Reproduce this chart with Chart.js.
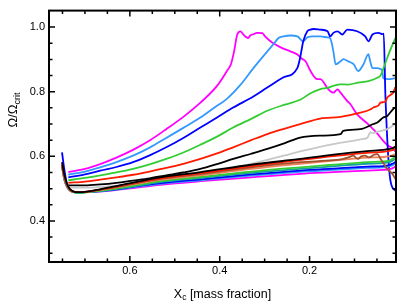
<!DOCTYPE html>
<html>
<head>
<meta charset="utf-8">
<script src="https://cdn.jsdelivr.net/npm/chart.js@4.4.1/dist/chart.umd.min.js"></script>
<style>
  html, body { margin: 0; padding: 0; background: #fff; }
  #wrap { width: 407px; height: 306px; position: relative; }
</style>
</head>
<body>
<div id="wrap"><canvas id="chart"></canvas></div>
<script>
// axis ticks
const xTicks = [0.6, 0.4, 0.2];
const xMinor = [0.75, 0.7, 0.65, 0.55, 0.5, 0.45, 0.35, 0.3, 0.25, 0.15, 0.1, 0.05];
const yTicks = [0.4, 0.6, 0.8, 1.0];
const yMinor = [0.3, 0.35, 0.45, 0.5, 0.55, 0.65, 0.7, 0.75, 0.85, 0.9, 0.95];

// upper tracks
const magX1 = [0.737,0.700,0.666,0.630,0.593,0.556,0.519,0.481,0.443,0.406,0.384,0.375,0.368,0.361,0.354,0.348,0.343,0.337,0.332,0.325,0.317,0.305,0.299,0.287,0.276,0.261,0.243,0.227,0.216,0.209,0.198,0.183,0.176,0.158,0.147,0.138,0.131,0.127,0.116,0.109,0.094,0.071,0.049,0.036,0.025,0.014,0.009];
const magY1 = [0.551,0.561,0.576,0.596,0.620,0.649,0.684,0.722,0.766,0.818,0.864,0.885,0.925,0.977,0.987,0.978,0.971,0.966,0.974,0.978,0.982,0.981,0.971,0.956,0.946,0.935,0.925,0.915,0.901,0.894,0.864,0.839,0.839,0.807,0.797,0.807,0.797,0.790,0.771,0.761,0.730,0.701,0.670,0.648,0.633,0.624,0.615];

const lbX1 = [0.737,0.700,0.666,0.630,0.593,0.556,0.519,0.481,0.443,0.410,0.384,0.354,0.325,0.294,0.281,0.269,0.258,0.243,0.227,0.214,0.205,0.192,0.176,0.160,0.154,0.147,0.142,0.131,0.125,0.114,0.102,0.092,0.080,0.069,0.065,0.060,0.049,0.042,0.038,0.036,0.025,0.009];
const lbY1 = [0.543,0.553,0.566,0.582,0.602,0.627,0.657,0.688,0.720,0.753,0.778,0.821,0.873,0.925,0.946,0.966,0.971,0.974,0.971,0.956,0.968,0.971,0.971,0.968,0.965,0.925,0.885,0.894,0.901,0.894,0.885,0.864,0.885,0.916,0.894,0.873,0.873,0.870,0.864,0.842,0.839,0.842];

const bX1 = [0.737,0.700,0.666,0.630,0.593,0.556,0.519,0.481,0.443,0.406,0.370,0.325,0.295,0.260,0.227,0.221,0.214,0.205,0.198,0.192,0.176,0.160,0.154,0.147,0.138,0.127,0.116,0.094,0.076,0.069,0.060,0.047,0.036,0.035,0.031,0.020,0.009];
const bY1 = [0.535,0.544,0.556,0.567,0.582,0.603,0.628,0.657,0.689,0.720,0.751,0.785,0.812,0.843,0.874,0.905,0.956,0.987,0.992,0.994,0.992,0.987,0.971,0.982,0.987,0.977,0.992,0.987,0.971,0.956,0.977,0.982,0.978,0.980,0.780,0.525,0.494];

const gX1 = [0.737,0.700,0.666,0.630,0.593,0.556,0.519,0.481,0.443,0.406,0.370,0.330,0.294,0.255,0.221,0.198,0.176,0.160,0.147,0.131,0.114,0.092,0.069,0.049,0.042,0.031,0.020,0.009];
const gY1 = [0.526,0.533,0.541,0.550,0.561,0.575,0.592,0.612,0.636,0.661,0.689,0.716,0.741,0.760,0.775,0.795,0.808,0.812,0.818,0.823,0.822,0.828,0.833,0.843,0.850,0.890,0.930,0.966];

const rX1 = [0.737,0.700,0.666,0.630,0.593,0.556,0.519,0.481,0.443,0.406,0.370,0.330,0.294,0.255,0.221,0.176,0.131,0.087,0.065,0.058,0.047,0.042,0.031,0.027,0.020,0.014,0.009];
const rY1 = [0.518,0.522,0.528,0.535,0.543,0.553,0.564,0.577,0.592,0.609,0.628,0.650,0.669,0.686,0.700,0.717,0.722,0.735,0.745,0.751,0.757,0.766,0.770,0.782,0.790,0.797,0.814];

const kX1 = [0.737,0.700,0.666,0.630,0.593,0.556,0.519,0.481,0.443,0.406,0.370,0.330,0.294,0.255,0.221,0.176,0.131,0.125,0.087,0.058,0.049,0.036,0.027,0.014,0.009];
const kY1 = [0.510,0.510,0.513,0.518,0.525,0.532,0.541,0.550,0.561,0.576,0.592,0.608,0.623,0.641,0.658,0.664,0.669,0.679,0.684,0.700,0.705,0.720,0.725,0.746,0.751];

const grX = [0.737,0.700,0.666,0.630,0.593,0.556,0.519,0.481,0.443,0.406,0.370,0.330,0.294,0.255,0.221,0.147,0.080,0.071,0.065,0.058,0.049,0.027,0.009];
const grY = [0.504,0.503,0.505,0.509,0.515,0.520,0.527,0.536,0.546,0.555,0.565,0.577,0.589,0.603,0.615,0.638,0.654,0.658,0.674,0.672,0.676,0.684,0.700];

// lower bundle
const bundleX = [0.751,0.746,0.740,0.733,0.725,0.715,0.700,0.666,0.630,0.593,0.532,0.443,0.330,0.221,0.147,0.072,0.036,0.025,0.016,0.009];
const kY2 = [0.582,0.545,0.515,0.498,0.491,0.489,0.490,0.498,0.508,0.519,0.535,0.551,0.574,0.592,0.605,0.616,0.620,0.622,0.625,0.630];
const rY2 = [0.575,0.540,0.512,0.497,0.491,0.489,0.490,0.497,0.506,0.517,0.532,0.548,0.570,0.589,0.601,0.611,0.614,0.616,0.619,0.623];
const saY = [0.572,0.535,0.510,0.496,0.490,0.489,0.490,0.496,0.504,0.513,0.527,0.541,0.561,0.577,0.587,0.596,0.598,0.600,0.603,0.607];
const gY2 = [0.570,0.532,0.508,0.494,0.489,0.487,0.488,0.493,0.500,0.509,0.523,0.536,0.553,0.566,0.574,0.582,0.584,0.586,0.592,0.599];
const tlY = [0.570,0.530,0.507,0.494,0.489,0.488,0.489,0.493,0.499,0.507,0.520,0.533,0.549,0.561,0.569,0.577,0.579,0.581,0.586,0.592];
const bY2 = [0.612,0.560,0.515,0.497,0.490,0.488,0.489,0.493,0.498,0.506,0.517,0.529,0.544,0.556,0.562,0.568,0.570,0.572,0.577,0.582];
const lbY2 = [0.570,0.530,0.506,0.494,0.489,0.488,0.489,0.492,0.497,0.504,0.515,0.526,0.540,0.552,0.558,0.564,0.566,0.568,0.572,0.577];
const magY2 = [0.568,0.528,0.505,0.493,0.489,0.488,0.489,0.491,0.496,0.502,0.512,0.523,0.535,0.546,0.551,0.556,0.558,0.560,0.563,0.568];

const brX = [0.751,0.746,0.740,0.733,0.725,0.715,0.700,0.666,0.630,0.593,0.532,0.443,0.330,0.221,0.147,0.125,0.115,0.102,0.096,0.092,0.085,0.076,0.069,0.062,0.058,0.049,0.042,0.036,0.027,0.016,0.009];
const brY = [0.572,0.537,0.511,0.496,0.490,0.489,0.490,0.497,0.505,0.515,0.530,0.545,0.566,0.582,0.588,0.592,0.596,0.602,0.594,0.592,0.600,0.602,0.597,0.600,0.604,0.607,0.592,0.580,0.561,0.546,0.530];

function pts(xs, ys) {
  return xs.map((x, i) => ({ x: x, y: ys[i] }));
}

function track(xs, ys, color) {
  return {
    data: pts(xs, ys),
    borderColor: color,
    borderWidth: 1.8,
    pointRadius: 0,
    fill: false,
    cubicInterpolationMode: 'monotone'
  };
}

const datasets = [
  track(bundleX, kY2, '#000000'),
  track(bundleX, rY2, '#ff1a00'),
  track(brX, brY, '#a0522d'),
  track(bundleX, saY, '#f0805a'),
  track(bundleX, gY2, '#33cc33'),
  track(bundleX, tlY, '#14a0a0'),
  track(bundleX, bY2, '#0000ff'),
  track(bundleX, lbY2, '#3399ff'),
  track(bundleX, magY2, '#ff00ff'),
  track(grX, grY, '#c8c8c8'),
  track(kX1, kY1, '#000000'),
  track(rX1, rY1, '#ff1a00'),
  track(gX1, gY1, '#33cc33'),
  track(bX1, bY1, '#0000ff'),
  track(lbX1, lbY1, '#3399ff'),
  track(magX1, magY1, '#ff00ff')
];

const FONT = "'Liberation Sans', Arial, Helvetica, sans-serif";

// frame, inward ticks on all sides and the axis titles with subscripts
const framePlugin = {
  id: 'frame',
  afterDraw(chart) {
    const { ctx, chartArea: a, scales } = chart;
    const xs = scales.x, ys = scales.y;
    ctx.save();
    ctx.strokeStyle = '#000';
    ctx.lineWidth = 1.5;
    ctx.beginPath();
    const tickX = (v, len) => {
      const px = xs.getPixelForValue(v);
      ctx.moveTo(px, a.bottom); ctx.lineTo(px, a.bottom - len);
      ctx.moveTo(px, a.top); ctx.lineTo(px, a.top + len);
    };
    const tickY = (v, len) => {
      const py = ys.getPixelForValue(v);
      ctx.moveTo(a.left, py); ctx.lineTo(a.left + len, py);
      ctx.moveTo(a.right, py); ctx.lineTo(a.right - len, py);
    };
    xTicks.forEach(v => tickX(v, 6));
    xMinor.forEach(v => tickX(v, 3.5));
    yTicks.forEach(v => tickY(v, 6));
    yMinor.forEach(v => tickY(v, 3.5));
    ctx.stroke();

    ctx.lineWidth = 2;
    ctx.strokeRect(a.left, a.top, a.right - a.left, a.bottom - a.top);

    // x title
    ctx.fillStyle = '#000';
    ctx.textBaseline = 'alphabetic';
    ctx.textAlign = 'left';
    const big = '12.5px ' + FONT, small = '8.5px ' + FONT;
    ctx.font = big;
    const wX = ctx.measureText('X').width;
    const wRest = ctx.measureText(' [mass fraction]').width;
    ctx.font = small;
    const wc = ctx.measureText('c').width;
    const x0 = (a.left + a.right) / 2 - (wX + wc + wRest) / 2;
    const base = 297.5;
    ctx.font = big; ctx.fillText('X', x0, base);
    ctx.font = small; ctx.fillText('c', x0 + wX, base + 2.5);
    ctx.font = big; ctx.fillText(' [mass fraction]', x0 + wX + wc, base);

    // y title
    const bigY = '13px ' + FONT, smallY = '9px ' + FONT;
    ctx.save();
    ctx.translate(17, 110);
    ctx.rotate(-Math.PI / 2);
    ctx.font = bigY;
    const wO = ctx.measureText('\u03A9/\u03A9').width;
    ctx.font = smallY;
    const wCrit = ctx.measureText('crit').width;
    const y0 = -(wO + wCrit) / 2;
    ctx.font = bigY; ctx.fillText('\u03A9/\u03A9', y0, 0);
    ctx.font = smallY; ctx.fillText('crit', y0 + wO, 2.5);
    ctx.restore();

    ctx.restore();
  }
};

new Chart(document.getElementById('chart'), {
  type: 'line',
  data: { datasets: datasets },
  options: {
    responsive: true,
    maintainAspectRatio: false,
    animation: false,
    events: [],
    layout: { padding: { top: 9, right: 11, left: 0, bottom: 0 } },
    plugins: { legend: { display: false }, tooltip: { enabled: false } },
    scales: {
      x: {
        type: 'linear',
        reverse: true,
        min: 0.0076,
        max: 0.78,
        grid: { display: false, drawTicks: false },
        border: { display: false },
        afterBuildTicks: s => { s.ticks = xTicks.map(v => ({ value: v })); },
        afterFit: s => { s.height = 44; },
        ticks: {
          padding: 2,
          color: '#000',
          font: { family: FONT, size: 11 },
          callback: v => v.toFixed(1)
        }
      },
      y: {
        type: 'linear',
        min: 0.273,
        max: 1.051,
        grid: { display: false, drawTicks: false },
        border: { display: false },
        afterBuildTicks: s => { s.ticks = yTicks.map(v => ({ value: v })); },
        afterFit: s => { s.width = 49; },
        ticks: {
          padding: 4,
          color: '#000',
          font: { family: FONT, size: 11 },
          callback: v => v.toFixed(1)
        }
      }
    }
  },
  plugins: [framePlugin]
});
</script>
</body>
</html>
